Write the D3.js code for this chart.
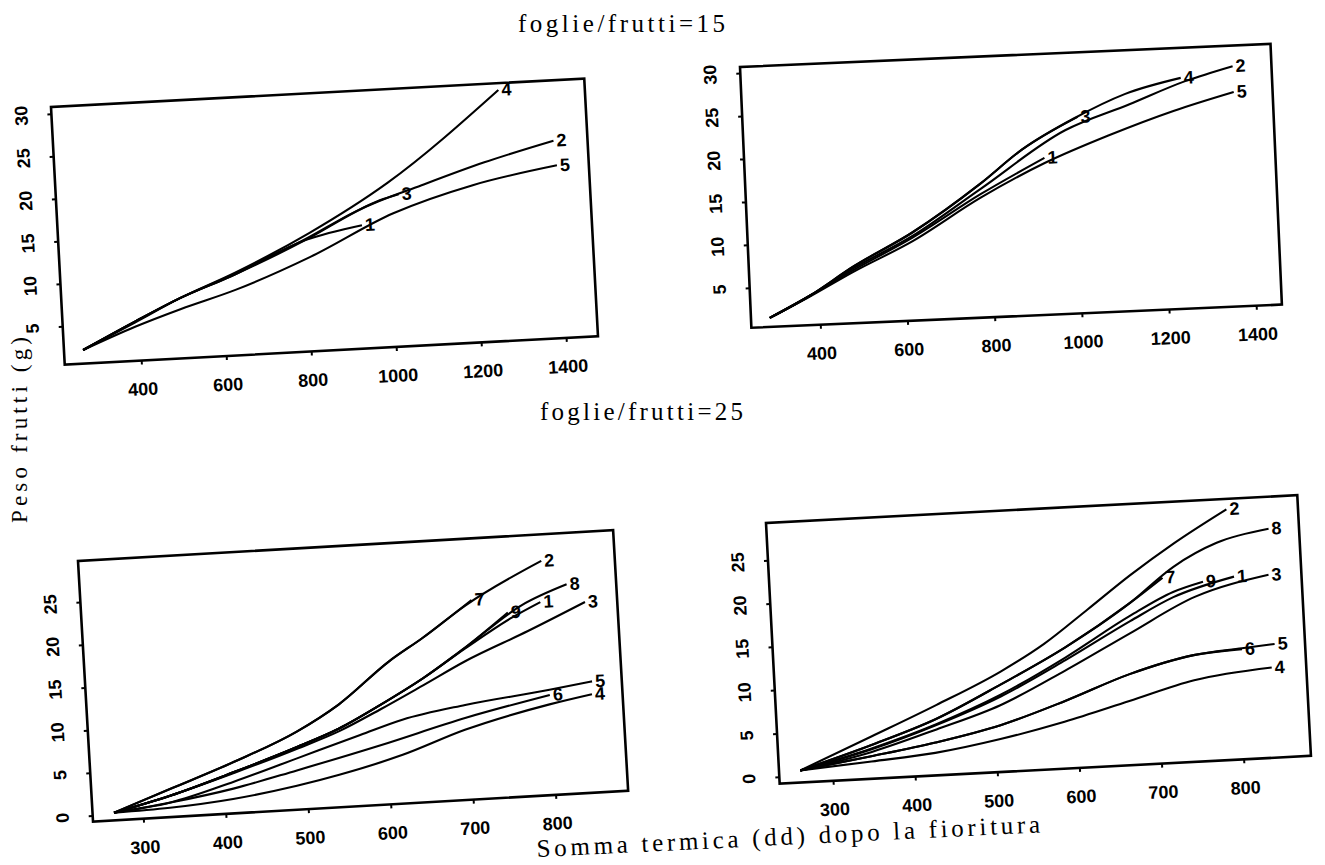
<!DOCTYPE html>
<html>
<head>
<meta charset="utf-8">
<script src="https://cdn.jsdelivr.net/npm/d3@7"></script>
<style>
  body { margin: 0; background: #fff; }
  .tick text { font-family: "Liberation Sans", Arial, sans-serif; font-weight: bold; font-size: 18px; fill: #000; }
  .lab { font-family: "Liberation Serif", "Times New Roman", serif; fill: #000; }
  .num { font-family: "Liberation Sans", Arial, sans-serif; font-weight: bold; font-size: 18px; fill: #000; }
</style>
</head>
<body>
<script>
// foglie/frutti = 15, left panel (curves 1..5)
var p1Names = ["1", "2", "3", "4", "5"];
var p1Days = [
  [265, 390, 500, 620, 800, 935],
  [265, 390, 500, 620, 800, 940, 1080, 1230, 1395],
  [265, 390, 500, 620, 800, 920, 980, 1025],
  [265, 390, 500, 630, 810, 1000, 1272],
  [265, 390, 500, 630, 810, 1010, 1200, 1400]
];
var p1Peso = [
  [2.1, 5.1, 7.6, 9.8, 13.6, 15.0],
  [2.1, 5.1, 7.6, 9.8, 13.6, 17.0, 19.3, 21.6, 23.7],
  [2.1, 5.1, 7.6, 9.9, 13.7, 16.6, 17.8, 18.4],
  [2.1, 5.0, 7.6, 10.2, 14.4, 19.8, 30.0],
  [2.1, 4.5, 6.3, 8.2, 11.6, 16.2, 19.0, 20.8]
];

// foglie/frutti = 15, right panel (curves 1..5)
var p2Names = ["1", "2", "3", "4", "5"];
var p2Days = [
  [285, 380, 480, 620, 780, 930],
  [285, 380, 480, 620, 780, 980, 1130, 1260, 1370],
  [285, 380, 480, 620, 780, 880, 1010],
  [285, 380, 480, 620, 780, 880, 1000, 1120, 1250],
  [285, 380, 480, 620, 780, 930, 1080, 1230, 1370]
];
var p2Peso = [
  [1.4, 3.8, 6.5, 10.0, 14.7, 18.6],
  [1.4, 3.8, 6.7, 10.2, 15.3, 21.7, 24.4, 26.8, 28.3],
  [1.4, 3.8, 6.9, 10.6, 15.9, 19.7, 23.2],
  [1.4, 3.8, 6.9, 10.6, 15.9, 19.7, 23.0, 25.6, 27.2],
  [1.4, 3.7, 6.3, 9.6, 14.3, 18.0, 20.9, 23.4, 25.3]
];

// foglie/frutti = 25, left panel (curves 1..9)
var p3Names = ["1", "2", "3", "4", "5", "6", "7", "8", "9"];
var p3Days = [
  [265, 334, 412, 490, 543, 595, 648, 701, 760, 795],
  [265, 335, 413, 491, 544, 608, 650, 704, 799],
  [265, 334, 412, 490, 543, 595, 648, 700, 778, 849],
  [265, 333, 410, 488, 540, 618, 695, 799, 851],
  [265, 334, 412, 490, 568, 620, 697, 800, 852],
  [265, 334, 411, 489, 593, 697, 800],
  [265, 335, 413, 491, 544, 608, 650, 712],
  [265, 334, 412, 490, 543, 595, 648, 701, 773, 828],
  [265, 334, 412, 490, 543, 595, 648, 701, 755]
];
var p3Peso = [
  [0.2, 1.8, 4.1, 6.6, 8.5, 11.0, 13.8, 17.0, 20.3, 21.9],
  [0.2, 2.6, 5.3, 8.4, 11.3, 16.0, 18.5, 22.0, 26.7],
  [0.2, 1.8, 4.0, 6.4, 8.2, 10.5, 13.0, 15.5, 18.6, 21.6],
  [0.2, 0.4, 1.0, 2.1, 3.1, 5.0, 7.5, 9.9, 10.8],
  [0.2, 1.0, 3.0, 5.3, 7.6, 9.1, 10.4, 11.6, 12.3],
  [0.2, 1.0, 2.2, 3.9, 6.3, 8.9, 11.0],
  [0.2, 2.6, 5.3, 8.4, 11.3, 16.0, 18.5, 22.6],
  [0.2, 1.8, 4.1, 6.6, 8.5, 11.0, 13.8, 17.1, 21.7, 23.8],
  [0.2, 1.8, 4.1, 6.6, 8.5, 11.0, 13.8, 17.1, 20.9]
];

// foglie/frutti = 25, right panel (curves 1..9)
var p4Names = ["1", "2", "3", "4", "5", "6", "7", "8", "9"];
var p4Days = [
  [261, 349, 429, 509, 590, 671, 725, 800],
  [261, 350, 430, 511, 565, 620, 674, 729, 795],
  [261, 349, 429, 508, 589, 670, 751, 842],
  [261, 348, 426, 506, 585, 665, 745, 840],
  [261, 348, 427, 507, 587, 667, 746, 805, 845],
  [261, 348, 427, 507, 587, 667, 746, 805],
  [261, 349, 429, 510, 591, 672, 713],
  [261, 349, 429, 510, 591, 672, 727, 781, 845],
  [261, 349, 429, 509, 590, 671, 725, 762]
];
var p4Peso = [
  [0.6, 2.6, 5.0, 7.9, 11.7, 15.8, 18.3, 20.3],
  [0.6, 4.1, 7.3, 10.8, 13.7, 17.4, 21.1, 24.5, 28.1],
  [0.6, 2.3, 4.5, 6.9, 10.5, 14.4, 18.2, 20.3],
  [0.6, 1.2, 1.8, 3.0, 4.6, 6.6, 8.6, 9.6],
  [0.6, 1.8, 3.0, 4.6, 7.0, 9.7, 11.5, 12.0, 12.3],
  [0.6, 1.8, 3.0, 4.6, 7.0, 9.7, 11.5, 11.9],
  [0.6, 3.1, 5.7, 9.3, 13.2, 17.9, 20.6],
  [0.6, 3.1, 5.7, 9.3, 13.2, 17.9, 21.8, 24.3, 25.6],
  [0.6, 2.7, 5.1, 8.1, 12.0, 16.4, 18.9, 19.9]
];

// axis limits and ticks
var p1XLim = [220, 1475], p1YLim = [0.5, 30.8];
var p2XLim = [242, 1459], p2YLim = [0.35, 30.7];
var p3XLim = [239, 888], p3YLim = [-0.7, 29.8];
var p4XLim = [235, 882], p4YLim = [-0.8, 29.3];
var topXTicks = [400, 600, 800, 1000, 1200, 1400];
var topYTicks = [5, 10, 15, 20, 25, 30];
var botXTicks = [300, 400, 500, 600, 700, 800];
var botYTicks = [0, 5, 10, 15, 20, 25];

var svg = d3.select("body").append("svg")
  .attr("width", 1325)
  .attr("height", 865);

// the scanned page is slightly tilted, so each panel gets its own rotation
var panels = [
  { x: 51, y: 107, w: 534, h: 258, angle: -3.05, names: p1Names, days: p1Days, peso: p1Peso,
    xLim: p1XLim, yLim: p1YLim, xTicks: topXTicks, yTicks: topYTicks },
  { x: 740, y: 67, w: 531, h: 261, angle: -2.5, names: p2Names, days: p2Days, peso: p2Peso,
    xLim: p2XLim, yLim: p2YLim, xTicks: topXTicks, yTicks: topYTicks },
  { x: 78, y: 561, w: 536, h: 261, angle: -3.3, names: p3Names, days: p3Days, peso: p3Peso,
    xLim: p3XLim, yLim: p3YLim, xTicks: botXTicks, yTicks: botYTicks },
  { x: 766, y: 523, w: 532, h: 261, angle: -3.0, names: p4Names, days: p4Days, peso: p4Peso,
    xLim: p4XLim, yLim: p4YLim, xTicks: botXTicks, yTicks: botYTicks }
];

panels.forEach(function (p) {
  var g = svg.append("g")
    .attr("transform", "translate(" + p.x + "," + p.y + ") rotate(" + p.angle + ")");

  var xScale = d3.scaleLinear().domain(p.xLim).range([0, p.w]);
  var yScale = d3.scaleLinear().domain(p.yLim).range([p.h, 0]);

  var xAxis = g.append("g")
    .attr("transform", "translate(0," + p.h + ")")
    .call(d3.axisBottom(xScale).tickValues(p.xTicks).tickSize(4).tickPadding(18).tickFormat(d3.format("d")));
  var yAxis = g.append("g")
    .call(d3.axisLeft(yScale).tickValues(p.yTicks).tickSize(4).tickFormat(d3.format("d")));

  [xAxis, yAxis].forEach(function (a) {
    a.select(".domain").remove();
    a.selectAll(".tick line").attr("stroke", "#000").attr("stroke-width", 2);
  });
  yAxis.selectAll(".tick text")
    .attr("x", 0)
    .attr("dy", 0)
    .attr("text-anchor", "middle")
    .attr("transform", "translate(-24,0) rotate(-90)");

  g.append("rect")
    .attr("width", p.w)
    .attr("height", p.h)
    .attr("fill", "none")
    .attr("stroke", "#000")
    .attr("stroke-width", 2.6);

  var line = d3.line()
    .x(function (d) { return xScale(d[0]); })
    .y(function (d) { return yScale(d[1]); })
    .curve(d3.curveMonotoneX);

  p.names.forEach(function (name, i) {
    var pts = p.days[i].map(function (d, j) { return [d, p.peso[i][j]]; });
    g.append("path")
      .datum(pts)
      .attr("d", line)
      .attr("fill", "none")
      .attr("stroke", "#000")
      .attr("stroke-width", 2.1);
    var last = pts[pts.length - 1];
    g.append("text")
      .attr("class", "num")
      .attr("x", xScale(last[0]) + 3)
      .attr("y", yScale(last[1]) + 6)
      .text(name);
  });
});

// titles and axis labels
svg.append("text").attr("class", "lab")
  .attr("x", 518).attr("y", 32)
  .attr("font-size", 25)
  .attr("textLength", 207).attr("lengthAdjust", "spacing")
  .text("foglie/frutti=15");

svg.append("text").attr("class", "lab")
  .attr("x", 540).attr("y", 420)
  .attr("font-size", 25)
  .attr("textLength", 203).attr("lengthAdjust", "spacing")
  .text("foglie/frutti=25");

svg.append("text").attr("class", "lab")
  .attr("transform", "translate(27,430) rotate(-90)")
  .attr("text-anchor", "middle")
  .attr("font-size", 23)
  .attr("textLength", 186).attr("lengthAdjust", "spacing")
  .text("Peso frutti (g)");

svg.append("text").attr("class", "lab")
  .attr("transform", "translate(537,857) rotate(-2.8)")
  .attr("font-size", 25)
  .attr("textLength", 504).attr("lengthAdjust", "spacing")
  .text("Somma termica (dd) dopo la fioritura");
</script>
</body>
</html>
